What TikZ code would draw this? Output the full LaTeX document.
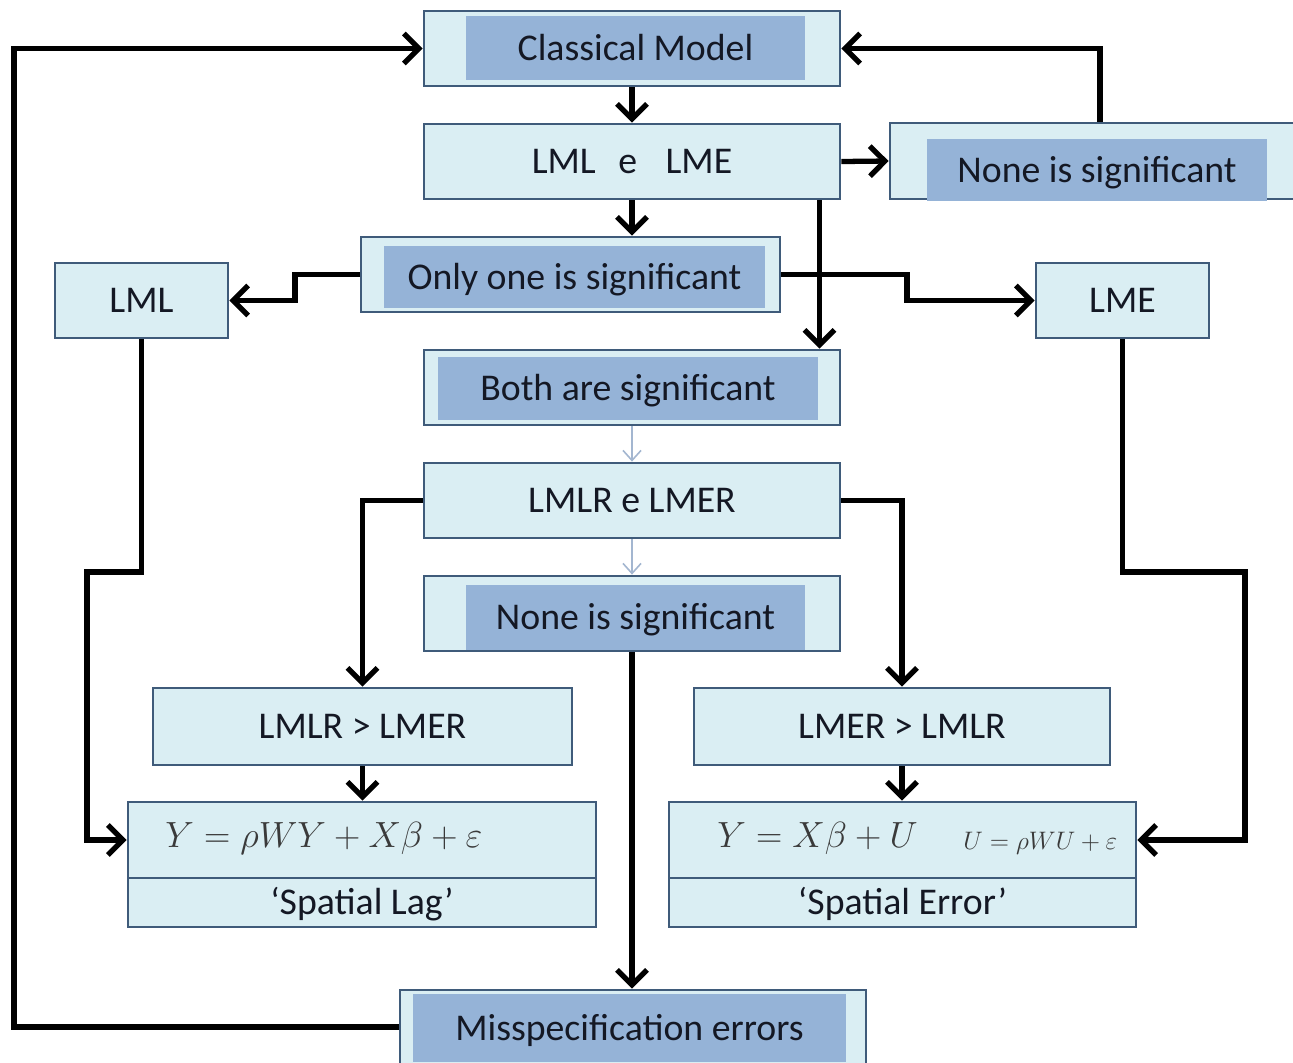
\documentclass[tikz,border=0pt]{standalone}
\usepackage{fontspec}
\setmainfont{Carlito}
\usetikzlibrary{arrows.meta,calc}
\definecolor{boxfill}{HTML}{DAEEF3}
\definecolor{boxline}{HTML}{3F5B7A}
\definecolor{innerfill}{HTML}{95B3D7}
\definecolor{txt}{HTML}{141824}
\definecolor{thinarr}{HTML}{A3B6D0}
\definecolor{eqcol}{HTML}{3A3A3A}
\def\u{0.02cm}
\newcommand\mainfs{\fontsize{21.5}{24}\selectfont}
\tikzset{
 obox/.style args={#1/#2}{draw=boxline, fill=boxfill, line width=1.6pt, minimum width=#1*\u, minimum height=#2*\u, inner sep=0pt, text=txt, font=\mainfs, text height=13.85pt, text depth=0pt},
 ibox/.style args={#1/#2}{fill=innerfill, draw=none, minimum width=#1*\u, minimum height=#2*\u, inner sep=0pt, text=txt, font=\mainfs, text height=13.85pt, text depth=0pt},
 conn/.style={line width=3pt, -{Straight Barb[length=0.3cm,width=0.6cm]}},
 thinc/.style={draw=thinarr, line width=0.9pt, -{Straight Barb[length=0.2cm,width=0.36cm]}},
 eqtext/.style={text=eqcol, inner sep=0pt, anchor=west},
}
\begin{document}
\begin{tikzpicture}[x=0.02cm, y=-0.02cm]
\useasboundingbox (0,0) rectangle (1293,1062);
\clip (0,0) rectangle (1293,1062);
\fill[white] (0,0) rectangle (1293,1062);

% boxes
\node[obox=416/75] (classical) at (632,48.5) {};
\node[ibox=339/64] (classicalin) at (635.5,48) {Classical Model};

\node[obox=416/75] (lmle) at (632,161.5) {LML\hspace{0.6em}e\hspace{0.75em}LME};

\node[obox=410/76] (nonetop) at (1095,161) {};
\node[ibox=340/62] (nonetopin) at (1097,170) {None is significant};

\node[obox=419/75] (onlyone) at (570.5,274.5) {};
\node[ibox=381/62] (onlyonein) at (574.5,277) {Only one is significant};

\node[obox=173/75] (lml) at (141.5,300.5) {LML};
\node[obox=173/75] (lme) at (1122.5,300.5) {LME};

\node[obox=416/75] (both) at (632,387.5) {};
\node[ibox=380/63] (bothin) at (628,388.5) {Both are significant};

\node[obox=416/75] (lmlr) at (632,500.5) {LMLR e LMER};

\node[obox=416/75] (nonemid) at (632,613.5) {};
\node[ibox=339/65] (nonemidin) at (635.5,617.5) {None is significant};

\node[obox=419/77] (lag) at (362.5,726.5) {LMLR > LMER};
\node[obox=416/77] (err) at (902,726.5) {LMER > LMLR};

\node[obox=468/76] (lageq) at (362,840) {};
\node[obox=468/49] (laglab) at (362,902.5) {‘Spatial Lag’};
\node[eqtext, font=\fontsize{20}{22}\selectfont] (lagf) at (165,838) {$Y = \rho WY + X\beta + \varepsilon$};

\node[obox=467/76] (erreq) at (902.5,840) {};
\node[obox=467/49] (errlab) at (902.5,902.5) {‘Spatial Error’};
\node[eqtext, font=\fontsize{20}{22}\selectfont] (errf) at (717,838) {$Y = X\beta + U$};
\node[eqtext, font=\fontsize{15}{17}\selectfont] (errf2) at (963,843) {$U = \rho WU + \varepsilon$};

\node[obox=466/74] (misspec) at (633,1027) {};
\node[ibox=433/68] (misspecin) at (629.5,1028) {Misspecification errors};

% helper coordinates
\coordinate (lcorner) at (14,500);
\coordinate (lmid) at (295,287);
\coordinate (rmid) at (907,287);
\coordinate (lj) at (87,572);
\coordinate (rj) at (1245,572);

% connectors
\draw[conn] (misspec.west) -| (lcorner) |- (classical.west);
\draw[conn] ($(nonetop.north)+(5,0)$) |- (classical.east);
\draw[conn] (classical.south) -- (lmle.north);
\draw[conn] (lmle.east) -- (nonetop.west);
\draw[conn] (lmle.south) -- (lmle.south |- onlyone.north);
\draw[conn] ($(lmle.south east)+(-22,0)$) -- ($(both.north east)+(-22,0)$);
\draw[conn] (onlyone.west) -| (lmid) |- (lml.east);
\draw[conn] (onlyone.east) -| (rmid) |- (lme.west);
\draw[thinc] (both.south) -- (lmlr.north);
\draw[thinc] (lmlr.south) -- (nonemid.north);
\draw[conn] (lmlr.west) -| (lag.north);
\draw[conn] (lmlr.east) -| (err.north);
\draw[conn] (lag.south) -- (lag.south |- lageq.north);
\draw[conn] (err.south) -- (err.south |- erreq.north);
\draw[conn] (nonemid.south) -- (nonemid.south |- misspec.north);
\draw[conn] (lml.south) |- (lj) |- (lageq.west);
\draw[conn] (lme.south) |- (rj) |- (erreq.east);
\end{tikzpicture}
\end{document}
